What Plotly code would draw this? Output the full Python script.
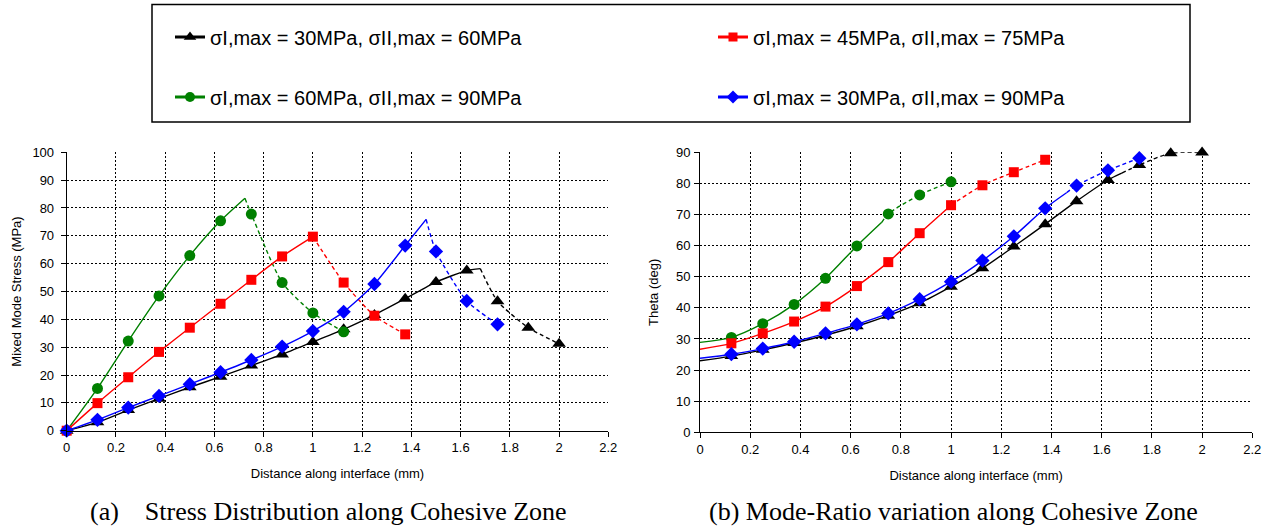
import plotly.graph_objects as go

# ---------------------------------------------------------------------------
# Data
# ---------------------------------------------------------------------------
legend_names = [
    "σI,max = 30MPa, σII,max = 60MPa",
    "σI,max = 45MPa, σII,max = 75MPa",
    "σI,max = 60MPa, σII,max = 90MPa",
    "σI,max = 30MPa, σII,max = 90MPa",
]

# (a) mixed mode stress (MPa) at nodes along the interface (mm)
dist_black = [0, 0.125, 0.25, 0.375, 0.5, 0.625, 0.75, 0.875, 1.0, 1.125,
              1.25, 1.375, 1.5, 1.625, 1.75, 1.875, 2.0]
stress_black = [0, 3.0, 7.4, 11.5, 15.6, 19.4, 23.4, 27.4, 31.9, 36.4,
                41.6, 47.4, 53.4, 57.5, 46.5, 37.0, 31.2]

dist_red = [0, 0.125, 0.25, 0.375, 0.5, 0.625, 0.75, 0.875, 1.0, 1.125,
            1.25, 1.375]
stress_red = [0, 9.9, 19.2, 28.3, 37.0, 45.6, 54.2, 62.6, 69.7, 53.2,
              41.3, 34.6]

dist_green = [0, 0.125, 0.25, 0.375, 0.5, 0.625, 0.75, 0.875, 1.0, 1.125]
stress_green = [0, 15.2, 32.2, 48.4, 62.9, 75.4, 77.8, 53.2, 42.3, 35.5]

dist_blue = [0, 0.125, 0.25, 0.375, 0.5, 0.625, 0.75, 0.875, 1.0, 1.125,
             1.25, 1.375, 1.5, 1.625, 1.75]
stress_blue = [0, 3.9, 8.3, 12.5, 16.7, 21.0, 25.4, 30.2, 35.8, 42.7,
               52.7, 66.5, 64.4, 46.6, 38.2]

# crack-tip position (mm): the curves are solid ahead of it, dashed behind
tip_black, tip_red, tip_green, tip_blue = 1.68, 1.0, 0.724, 1.46
# peak stress reached at the crack tip (MPa)
peak_black, peak_red, peak_green, peak_blue = 58.2, 69.7, 83.5, 75.9

# (b) mode-ratio angle theta (deg) at nodes along the interface (mm)
tdist_black = [0.125, 0.25, 0.375, 0.5, 0.625, 0.75, 0.875, 1.0, 1.125,
               1.25, 1.375, 1.5, 1.625, 1.75, 1.875, 2.0]
theta_black = [24.5, 26.5, 28.7, 31.2, 34.1, 37.5, 41.5, 46.8, 52.7,
               59.7, 66.9, 74.3, 81.1, 85.9, 89.7, 89.9]

tdist_red = [0.125, 0.25, 0.375, 0.5, 0.625, 0.75, 0.875, 1.0, 1.125,
             1.25, 1.375]
theta_red = [28.6, 31.8, 35.6, 40.4, 47.0, 54.7, 64.0, 73.0, 79.4,
             83.6, 87.6]

tdist_green = [0.125, 0.25, 0.375, 0.5, 0.625, 0.75, 0.875, 1.0]
theta_green = [30.5, 34.9, 41.1, 49.5, 59.9, 70.2, 76.3, 80.5]

tdist_blue = [0.125, 0.25, 0.375, 0.5, 0.625, 0.75, 0.875, 1.0, 1.125,
              1.25, 1.375, 1.5, 1.625, 1.75]
theta_blue = [25.1, 26.9, 29.1, 31.8, 34.7, 38.2, 42.8, 48.4, 55.2,
              63.0, 72.0, 79.3, 84.2, 88.1]

# theta of each curve at x = 0 and at the crack tip
theta0_black, theta0_red, theta0_green, theta0_blue = 23.0, 26.7, 28.9, 23.8
theta_tip_black, theta_tip_red, theta_tip_green, theta_tip_blue = 83.3, 73.0, 67.5, 77.0

# ---------------------------------------------------------------------------
# Styles
# ---------------------------------------------------------------------------
colors = ["#000000", "#ff0000", "#008000", "#0000ff"]
symbols = ["triangle-up", "square", "circle", "diamond"]
msizes = [12, 10, 11, 11]

W, H = 1272, 528
SANS = "Liberation Sans, Arial, sans-serif"
SERIF = "Liberation Serif, Times New Roman, serif"


def split_curve(xs, ys, tip_x, tip_y, start=None):
    """Solid part up to the crack tip, dashed part beyond it."""
    sx, sy = ([0], [start]) if start is not None else ([], [])
    dx, dy = [], []
    for x, y in zip(xs, ys):
        if x < tip_x - 1e-9:
            sx.append(x); sy.append(y)
        elif x > tip_x + 1e-9:
            dx.append(x); dy.append(y)
    sx.append(tip_x); sy.append(tip_y)
    dx.insert(0, tip_x); dy.insert(0, tip_y)
    return (sx, sy), (dx, dy)


fig = go.Figure()

stress_sets = [
    (dist_black, stress_black, tip_black, peak_black),
    (dist_red, stress_red, tip_red, peak_red),
    (dist_green, stress_green, tip_green, peak_green),
    (dist_blue, stress_blue, tip_blue, peak_blue),
]
theta_sets = [
    (tdist_black, theta_black, tip_black, theta_tip_black, theta0_black),
    (tdist_red, theta_red, tip_red, theta_tip_red, theta0_red),
    (tdist_green, theta_green, tip_green, theta_tip_green, theta0_green),
    (tdist_blue, theta_blue, tip_blue, theta_tip_blue, theta0_blue),
]

draw_order = [0, 2, 1, 3]

for i in draw_order:
    xs, ys, tx, ty = stress_sets[i]
    (sx, sy), (dx, dy) = split_curve(xs, ys, tx, ty)
    c = colors[i]
    fig.add_trace(go.Scatter(x=sx, y=sy, mode="lines", showlegend=False,
                             line=dict(color=c, width=1.4, shape="spline", smoothing=0.6),
                             xaxis="x", yaxis="y", hoverinfo="skip"))
    fig.add_trace(go.Scatter(x=dx, y=dy, mode="lines", showlegend=False,
                             line=dict(color=c, width=1.4, dash="4px,3px",
                                       shape="spline", smoothing=0.6),
                             xaxis="x", yaxis="y", hoverinfo="skip"))
    fig.add_trace(go.Scatter(x=xs, y=ys, mode="markers", showlegend=False,
                             marker=dict(symbol=symbols[i], size=msizes[i], color=c,
                                         line=dict(width=0)),
                             cliponaxis=False, xaxis="x", yaxis="y"))

for i in draw_order:
    xs, ys, tx, ty, y0 = theta_sets[i]
    (sx, sy), (dx, dy) = split_curve(xs, ys, tx, ty, start=y0)
    c = colors[i]
    fig.add_trace(go.Scatter(x=sx, y=sy, mode="lines", showlegend=False,
                             line=dict(color=c, width=1.4, shape="spline", smoothing=0.8),
                             xaxis="x2", yaxis="y2", hoverinfo="skip"))
    fig.add_trace(go.Scatter(x=dx, y=dy, mode="lines", showlegend=False,
                             line=dict(color=c, width=1.4, dash="4px,3px",
                                       shape="spline", smoothing=0.8),
                             xaxis="x2", yaxis="y2", hoverinfo="skip"))
    fig.add_trace(go.Scatter(x=xs, y=ys, mode="markers", showlegend=False,
                             marker=dict(symbol=symbols[i], size=msizes[i], color=c,
                                         line=dict(width=0)),
                             cliponaxis=False, xaxis="x2", yaxis="y2"))

# legend entries (two rows of two)
for i, name in enumerate(legend_names):
    fig.add_trace(go.Scatter(x=[None], y=[None], mode="lines+markers", name=name,
                             line=dict(color=colors[i], width=3),
                             marker=dict(symbol=symbols[i], size=msizes[i] - 1,
                                         color=colors[i]),
                             legend="legend" if i < 2 else "legend2",
                             xaxis="x", yaxis="y"))

px_x = lambda p: p / W
px_y = lambda p: (H - p) / H

grid = dict(showgrid=True, gridcolor="#000000", gridwidth=1, griddash="2px,2px",
            zeroline=False, showline=True, linecolor="#000000", linewidth=1,
            ticks="outside", ticklen=5, tickcolor="#000000",
            tickfont=dict(family=SANS, size=13, color="#000000"),
            title_font=dict(family=SANS, size=13, color="#000000"))

fig.update_layout(
    width=W, height=H,
    margin=dict(l=0, r=0, t=0, b=0, autoexpand=False),
    paper_bgcolor="white", plot_bgcolor="white",
    xaxis=dict(domain=[px_x(66.7), px_x(608.3)], range=[0, 2.2], dtick=0.2, tick0=0,
               title=dict(text="Distance along interface (mm)", standoff=14),
               anchor="y", **grid),
    yaxis=dict(domain=[px_y(430.7), px_y(152.3)], range=[0, 100], dtick=10,
               title=dict(text="Mixed Mode Stress (MPa)", standoff=7),
               ticklabelstandoff=4, anchor="x", **grid),
    xaxis2=dict(domain=[px_x(700), px_x(1252.3)], range=[0, 2.2], dtick=0.2, tick0=0,
                title=dict(text="Distance along interface (mm)", standoff=14),
                anchor="y2", **grid),
    yaxis2=dict(domain=[px_y(432.3), px_y(152.3)], range=[0, 90], dtick=10,
                title=dict(text="Theta (deg)", standoff=14),
                ticklabelstandoff=1, anchor="x2", **grid),
    legend=dict(orientation="h", x=px_x(170), xanchor="left", y=px_y(37), yanchor="middle",
                font=dict(family=SANS, size=20, color="#000000"),
                entrywidth=498, entrywidthmode="pixels", itemwidth=30,
                bgcolor="rgba(0,0,0,0)", borderwidth=0),
    legend2=dict(orientation="h", x=px_x(170), xanchor="left", y=px_y(97), yanchor="middle",
                 font=dict(family=SANS, size=20, color="#000000"),
                 entrywidth=498, entrywidthmode="pixels", itemwidth=30,
                 bgcolor="rgba(0,0,0,0)", borderwidth=0),
    shapes=[dict(type="rect", xref="paper", yref="paper",
                 x0=px_x(152), x1=px_x(1190), y0=px_y(122), y1=px_y(4.5),
                 line=dict(color="#000000", width=1.5), fillcolor="rgba(0,0,0,0)")],
    annotations=[
        dict(text="(a)\u00a0\u00a0\u00a0\u00a0Stress Distribution along Cohesive Zone",
             xref="paper", yref="paper", x=px_x(88), y=px_y(511),
             xanchor="left", yanchor="middle", showarrow=False,
             font=dict(family=SERIF, size=26, color="#000000")),
        dict(text="(b) Mode-Ratio variation along Cohesive Zone",
             xref="paper", yref="paper", x=px_x(707), y=px_y(511),
             xanchor="left", yanchor="middle", showarrow=False,
             font=dict(family=SERIF, size=26, color="#000000")),
    ],
)

fig.write_html("out.html")
